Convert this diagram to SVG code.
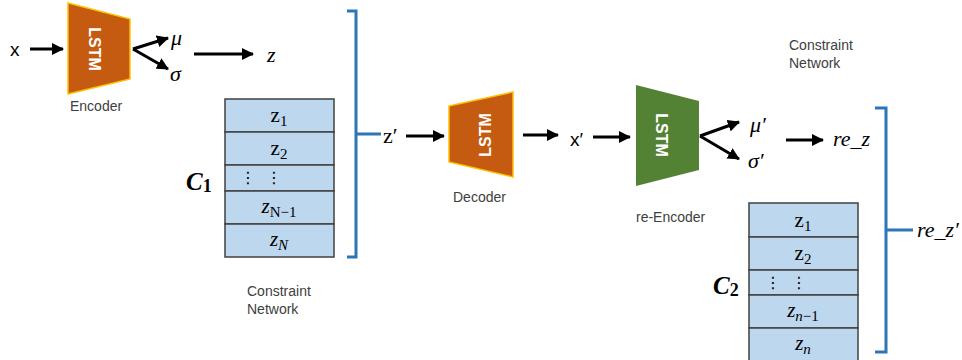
<svg xmlns="http://www.w3.org/2000/svg" width="962" height="360" viewBox="0 0 962 360">
<defs>
<marker id="ah" markerUnits="userSpaceOnUse" markerWidth="12" markerHeight="12" refX="11" refY="6" orient="auto">
<path d="M0,0 L12,6 L0,12 Z" fill="#000"/>
</marker>
<style>
.lbl{font-family:"Liberation Sans",Arial,sans-serif;font-size:14px;fill:#404040}
.lstm{font-family:"Liberation Sans",Arial,sans-serif;font-size:16px;font-weight:bold;fill:#fff}
.orange{fill:#C55A11;stroke:#FFC000;stroke-width:1.5}
.green{fill:#548235}
.arr{stroke:#000;stroke-width:3;fill:none;marker-end:url(#ah)}
.brk{stroke:#2E75B6;stroke-width:3;fill:none}
.cell{fill:#BDD7EE;stroke:#404040;stroke-width:1.5}
.m{font-family:"Liberation Serif","Times New Roman",serif;font-size:22px;font-style:italic;fill:#000}
.mu{font-family:"Liberation Serif","Times New Roman",serif;font-size:22px;fill:#000}
.sans{font-family:"Liberation Sans",Arial,sans-serif;font-size:19px;fill:#000}
.cz{font-family:"Liberation Serif","Times New Roman",serif;font-size:21px;fill:#000;text-anchor:middle}
.cl{font-family:"Liberation Serif","Times New Roman",serif;font-size:25px;font-style:italic;font-weight:bold;fill:#000}
.dots{font-family:"DejaVu Sans",sans-serif;font-size:16px;fill:#000;text-anchor:middle}
</style>
</defs>

<g id="encoder">
<polygon class="orange" points="68,3 130,19 130,79 68,94"/>
<text class="lstm" transform="translate(95,49) rotate(90)" text-anchor="middle" dy="6">LSTM</text>
<text class="lbl" x="70" y="111">Encoder</text>
</g>

<g id="input-x"><text class="sans" x="10" y="56">x</text></g>
<g id="mu"><text class="m" x="171" y="45">μ</text></g>
<g id="sigma"><text class="m" x="170" y="81">σ</text></g>
<g id="z"><text class="m" x="267" y="62">z</text></g>

<g id="table-c1">
<rect class="cell" x="225" y="99" width="109" height="33"/>
<rect class="cell" x="225" y="132" width="109" height="33"/>
<rect class="cell" x="225" y="165" width="109" height="26"/>
<rect class="cell" x="225" y="191" width="109" height="33"/>
<rect class="cell" x="225" y="224" width="109" height="33"/>
<text class="cz" x="279" y="122">z<tspan font-size="15" dy="4">1</tspan></text>
<text class="cz" x="279" y="155">z<tspan font-size="15" dy="4">2</tspan></text>
<text class="dots" x="248" y="183">⋮</text>
<text class="dots" x="274" y="183">⋮</text>
<text class="cz" x="279" y="213"><tspan font-style="italic">z</tspan><tspan font-size="15" dy="4">N−1</tspan></text>
<text class="cz" x="279" y="246"><tspan font-style="italic">z</tspan><tspan font-size="15" dy="4" font-style="italic">N</tspan></text>
<text class="cl" x="186" y="190">C<tspan font-size="18" font-style="normal" dy="2">1</tspan></text>
<text class="lbl" x="247" y="296">Constraint</text>
<text class="lbl" x="247" y="314">Network</text>
</g>

<g id="z-prime"><text class="mu" x="383" y="143">z′</text></g>

<g id="decoder">
<polygon class="orange" points="449,106 513,92 513,177 449,162"/>
<text class="lstm" transform="translate(485,135) rotate(-90)" text-anchor="middle" dy="6">LSTM</text>
<text class="lbl" x="453" y="202">Decoder</text>
</g>

<g id="x-prime"><text class="sans" x="570" y="146">x′</text></g>

<g id="re-encoder">
<polygon class="green" points="636,85 699,101 699,170 636,186"/>
<text class="lstm" transform="translate(662,135) rotate(90)" text-anchor="middle" dy="6">LSTM</text>
<text class="lbl" x="636" y="222">re-Encoder</text>
</g>

<g id="mu-prime"><text class="m" x="750" y="132">μ′</text></g>
<g id="sigma-prime"><text class="m" x="748" y="168">σ′</text></g>
<g id="re-z"><text class="m" x="833" y="146">re_z</text></g>

<g id="constraint-label-2">
<text class="lbl" x="789" y="50">Constraint</text>
<text class="lbl" x="789" y="68">Network</text>
</g>

<g id="table-c2">
<rect class="cell" x="749" y="203" width="109" height="34"/>
<rect class="cell" x="749" y="237" width="109" height="33"/>
<rect class="cell" x="749" y="270" width="109" height="25"/>
<rect class="cell" x="749" y="295" width="109" height="33"/>
<rect class="cell" x="749" y="328" width="109" height="34"/>
<text class="cz" x="803" y="227">z<tspan font-size="15" dy="4">1</tspan></text>
<text class="cz" x="803" y="260">z<tspan font-size="15" dy="4">2</tspan></text>
<text class="dots" x="773" y="288">⋮</text>
<text class="dots" x="799" y="288">⋮</text>
<text class="cz" x="803" y="317"><tspan font-style="italic">z</tspan><tspan font-size="15" dy="4" font-style="italic">n</tspan><tspan font-size="15">−1</tspan></text>
<text class="cz" x="803" y="350"><tspan font-style="italic">z</tspan><tspan font-size="15" dy="4" font-style="italic">n</tspan></text>
<text class="cl" x="713" y="294">C<tspan font-size="18" font-style="normal" dy="2">2</tspan></text>
</g>

<g id="re-z-prime"><text class="m" x="917" y="237">re_z′</text></g>

<g id="connectors">
<line class="arr" x1="30" y1="49" x2="63" y2="49"/>
<line class="arr" x1="133" y1="49" x2="168" y2="38"/>
<line class="arr" x1="133" y1="49" x2="168" y2="69"/>
<line class="arr" x1="194" y1="54" x2="253" y2="54"/>
<line class="arr" x1="406" y1="136" x2="444" y2="136"/>
<line class="arr" x1="523" y1="135" x2="558" y2="135"/>
<line class="arr" x1="593" y1="137" x2="630" y2="137"/>
<line class="arr" x1="700" y1="136" x2="739" y2="122"/>
<line class="arr" x1="700" y1="136" x2="739" y2="159"/>
<line class="arr" x1="786" y1="140" x2="823" y2="140"/>
<path class="brk" d="M347,11 H356 V257 H347 M356,134 H381"/>
<path class="brk" d="M875,108 H886 V352 H875 M886,230 H913"/>
</g>
</svg>
